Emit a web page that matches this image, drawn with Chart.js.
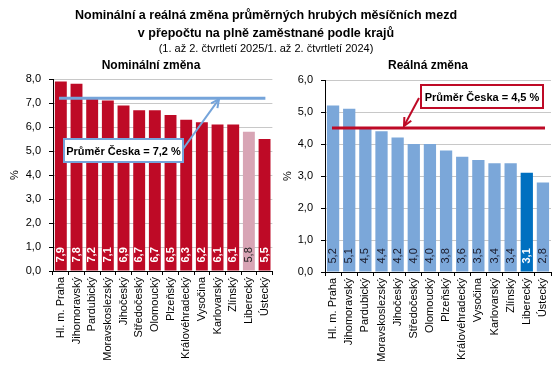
<!DOCTYPE html>
<html><head><meta charset="utf-8">
<script src="https://cdn.jsdelivr.net/npm/chart.js@4"></script>
<style>
html,body{margin:0;padding:0;background:#fff;}
#wrap{position:relative;width:560px;height:369px;overflow:hidden;font-family:"Liberation Sans",Arial,sans-serif;}
#t1{position:absolute;left:0;top:6px;width:532px;text-align:center;font-weight:bold;font-size:12.5px;line-height:18px;color:#000;z-index:2;}
#t2{position:absolute;left:0;top:42px;width:532px;text-align:center;font-size:11px;color:#000;z-index:2;}
canvas{position:absolute;top:0;}
#c1{left:0;} #c2{left:280px;}
</style></head>
<body><div id="wrap">
<div id="t1">Nominální a reálná změna průměrných hrubých měsíčních mezd<br>v přepočtu na plně zaměstnané podle krajů</div>
<div id="t2">(1. až 2. čtvrtletí 2025/1. až 2. čtvrtletí 2024)</div>
<canvas id="c1" width="280" height="369"></canvas>
<canvas id="c2" width="280" height="369"></canvas>
</div>
<script>
const categoriesNominal = ["Hl. m. Praha","Jihomoravský","Pardubický","Moravskoslezský","Jihočeský","Středočeský","Olomoucký","Plzeňský","Královéhradecký","Vysočina","Karlovarský","Zlínský","Liberecký","Ústecký"];
const valuesNominal = [7.9,7.8,7.2,7.1,6.9,6.7,6.7,6.5,6.3,6.2,6.1,6.1,5.8,5.5];
const categoriesReal = ["Hl. m. Praha","Jihomoravský","Pardubický","Moravskoslezský","Jihočeský","Středočeský","Olomoucký","Plzeňský","Královéhradecký","Vysočina","Karlovarský","Zlínský","Liberecký","Ústecký"];
const valuesReal = [5.2,5.1,4.5,4.4,4.2,4.0,4.0,3.8,3.6,3.5,3.4,3.4,3.1,2.8];
const averageNominal = 7.2;
const averageReal = 4.5;
const highlightRegion = "Liberecký";
const titleNominal = "Nominální změna";
const titleReal = "Reálná změna";
const calloutNominal = "Průměr Česka = 7,2 %";
const calloutReal = "Průměr Česka = 4,5 %";

const FONT = '"Liberation Sans", Arial, sans-serif';
Chart.defaults.font.family = FONT;
Chart.defaults.color = '#000';
const fmt = v => Number(v).toFixed(1).replace('.', ',');

const RED = '#BE0A26', PINK = '#D8A5B5', LBLUE = '#7BA7D9', DBLUE = '#0070C0';

function arrow(ctx, x1, y1, x2, y2, color) {
  ctx.save();
  ctx.strokeStyle = color; ctx.lineWidth = 2;
  ctx.beginPath(); ctx.moveTo(x1, y1); ctx.lineTo(x2, y2); ctx.stroke();
  const a = Math.atan2(y2 - y1, x2 - x1), L = 9;
  ctx.beginPath();
  ctx.moveTo(x2 - L * Math.cos(a - 0.45), y2 - L * Math.sin(a - 0.45));
  ctx.lineTo(x2, y2);
  ctx.lineTo(x2 - L * Math.cos(a + 0.45), y2 - L * Math.sin(a + 0.45));
  ctx.stroke();
  ctx.restore();
}

const decorPlugin = {
  id: 'decor',
  afterDatasetsDraw(chart, args, o) {
    const ctx = chart.ctx, ca = chart.chartArea;
    const ys = chart.scales.y;
    const meta = chart.getDatasetMeta(0);
    const data = chart.data.datasets[0].data;
    ctx.save();
    meta.data.forEach((bar, i) => {
      const hl = chart.data.labels[i] === highlightRegion;
      ctx.save();
      ctx.translate(bar.x, bar.base - 8);
      ctx.rotate(-Math.PI / 2);
      ctx.textAlign = 'left'; ctx.textBaseline = 'middle';
      const c = hl ? o.hlLabelColor : o.labelColor;
      const bold = hl ? o.hlLabelBold : o.labelBold;
      ctx.font = (bold ? 'bold ' : '') + '11px ' + FONT;
      ctx.fillStyle = c;
      ctx.fillText(fmt(data[i]), 0, 0);
      ctx.restore();
    });
    ctx.restore();
    const yAvg = ys.getPixelForValue(o.avg);
    ctx.save();
    ctx.strokeStyle = o.lineColor; ctx.lineWidth = 3;
    ctx.beginPath(); ctx.moveTo(ca.left + o.lineInsetL, yAvg); ctx.lineTo(ca.right - o.lineInsetR, yAvg); ctx.stroke();
    const b = o.box;
    ctx.fillStyle = '#fff'; ctx.fillRect(b.x, b.y, b.w, b.h);
    ctx.strokeStyle = o.lineColor; ctx.lineWidth = 2; ctx.strokeRect(b.x, b.y, b.w, b.h);
    ctx.fillStyle = '#000'; ctx.font = 'bold 11px ' + FONT;
    ctx.textAlign = 'center'; ctx.textBaseline = 'middle';
    ctx.fillText(o.text, b.x + b.w / 2, b.y + b.h / 2 + 1);
    ctx.restore();
    arrow(ctx, o.arrow.x1, o.arrow.y1, o.arrow.x2, yAvg + o.arrow.dy, o.lineColor);
    ctx.save();
    ctx.font = 'bold 12px ' + FONT; ctx.fillStyle = '#000';
    ctx.textAlign = 'center'; ctx.textBaseline = 'middle';
    ctx.fillText(o.title, o.titleX, 66);
    ctx.restore();
  }
};

function makeChart(id, labels, values, max, colors, yWidth, xHeight, padTop, padRight, titlePad, decor) {
  return new Chart(document.getElementById(id), {
    type: 'bar',
    data: { labels: labels, datasets: [{ data: values, backgroundColor: colors, borderWidth: 0, barPercentage: 0.76, categoryPercentage: 1 }] },
    options: {
      responsive: false, animation: false,
      layout: { padding: { top: padTop, right: padRight, bottom: 0, left: 0 } },
      plugins: { legend: { display: false }, tooltip: { enabled: false }, title: { display: false }, decor: decor },
      scales: {
        x: {
          grid: { drawOnChartArea: false, drawTicks: true, tickLength: 4, tickColor: '#000', offset: true },
          border: { color: '#000', width: 1 },
          ticks: { autoSkip: false, minRotation: 90, maxRotation: 90, padding: 2, font: { size: 11 }, color: '#000' },
          afterFit: s => { s.height = xHeight; }
        },
        y: {
          min: 0, max: max,
          grid: { color: '#C8C8C8', tickColor: '#000', tickLength: 4, drawTicks: true },
          border: { color: '#000', width: 1 },
          ticks: { stepSize: 1, padding: 8, font: { size: 11 }, color: '#000', callback: v => fmt(v) },
          title: { display: true, text: '%', font: { size: 11 }, padding: { top: titlePad, bottom: 0 } },
          afterFit: s => { s.width = yWidth; }
        }
      }
    },
    plugins: [decorPlugin]
  });
}

makeChart('c1', categoriesNominal, valuesNominal, 8,
  categoriesNominal.map(c => c === highlightRegion ? PINK : RED),
  53, 98, 79, 7, 8,
  { avg: averageNominal, lineColor: '#75A4DA', lineInsetL: 6, lineInsetR: 7,
    labelColor: '#fff', labelBold: true, hlLabelColor: '#222', hlLabelBold: false,
    box: { x: 64, y: 139, w: 119, h: 23 }, text: calloutNominal,
    arrow: { x1: 183, y1: 149, x2: 219, dy: 1 },
    title: titleNominal, titleX: 151 });

makeChart('c2', categoriesReal, valuesReal, 6,
  categoriesReal.map(c => c === highlightRegion ? DBLUE : LBLUE),
  45, 97, 80, 9, 1,
  { avg: averageReal, lineColor: '#BE0A26', lineInsetL: 7, lineInsetR: 6,
    labelColor: '#1a1a2a', labelBold: false, hlLabelColor: '#fff', hlLabelBold: true,
    box: { x: 141, y: 85, w: 122, h: 23 }, text: calloutReal,
    arrow: { x1: 139, y1: 98, x2: 124, dy: -2 },
    title: titleReal, titleX: 148 });
</script>
</body></html>
